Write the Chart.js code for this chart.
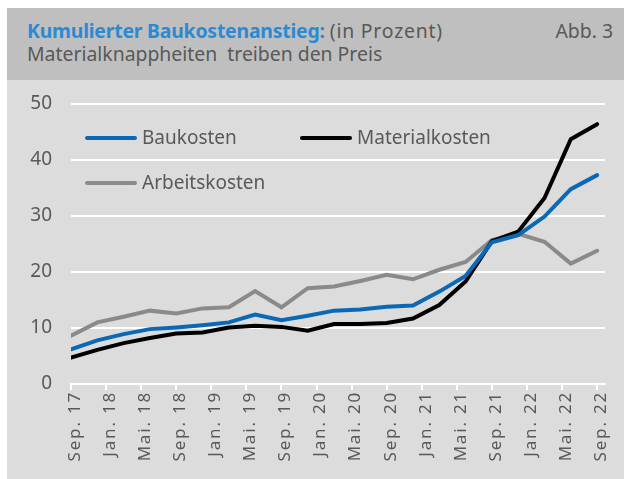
<!DOCTYPE html>
<html lang="de">
<head>
<meta charset="utf-8">
<script src="https://cdn.jsdelivr.net/npm/chart.js@4.4.0/dist/chart.umd.min.js"></script>
<style>
  body { margin: 0; background: #fff; font-family: "Noto Sans", sans-serif; color: #595959; }
  #panel { position: absolute; left: 7px; top: 8px; width: 617px; height: 471px; background: #dcdcdc; }
  #head { position: absolute; left: 0; top: 0; width: 617px; height: 72px; background: #bfbfbf; }
  .hl { position: absolute; left: 20px; font-size: 19.4px; line-height: 23px; white-space: pre; }
  #t1 { top: 11px; }
  #t2 { top: 34px; }
  #t1 b { color: #2a8ad4; font-weight: 700; letter-spacing: -0.2px; }
  #t1 span { letter-spacing: 0.8px; }
  #abb { position: absolute; right: 11px; top: 11px; font-size: 19.4px; line-height: 23px; }
  #chartBox { position: absolute; left: 0; top: 72px; width: 617px; height: 399px; }
  #chartBox canvas { display: block; }
  .lg { position: absolute; font-size: 19px; line-height: 23px; white-space: nowrap; }
  .lg i { display: inline-block; width: 52px; height: 4px; border-radius: 2px; vertical-align: middle; margin-right: 5px; position: relative; top: -1px; }
</style>
</head>
<body>
<div id="panel">
  <div id="head">
    <div class="hl" id="t1"><b>Kumulierter Baukostenanstieg:</b> <span>(in Prozent)</span></div>
    <div class="hl" id="t2">Materialknappheiten  treiben den Preis</div>
    <div id="abb">Abb. 3</div>
  </div>
  <div id="chartBox"><canvas id="chart" width="617" height="399"></canvas></div>
  <div id="legend"></div>
</div>
<script>
// tick labels every 4 months, starting Sep. 17
const tickLabels = ['Sep. 17', 'Jan. 18', 'Mai. 18', 'Sep. 18', 'Jan. 19', 'Mai. 19', 'Sep. 19', 'Jan. 20',
    'Mai. 20', 'Sep. 20', 'Jan. 21', 'Mai. 21', 'Sep. 21', 'Jan. 22', 'Mai. 22', 'Sep. 22'];
const tickMonths = [0, 4, 8, 12, 16, 20, 24, 28, 32, 36, 40, 44, 48, 52, 56, 60];

// quarterly observations, months after Sep. 17
const quarterMonths = [0, 3, 6, 9, 12, 15, 18, 21, 24, 27, 30, 33, 36, 39, 42, 45, 48, 51, 54, 57, 60];

const baukosten = [6.2, 7.8, 8.9, 9.8, 10.1, 10.5, 11.0, 12.4, 11.4, 12.2, 13.1, 13.3, 13.8, 14.0,
    16.5, 19.3, 25.3, 26.6, 29.9, 34.8, 37.3];
const materialkosten = [4.7, 6.1, 7.3, 8.2, 9.0, 9.2, 10.1, 10.4, 10.2, 9.5, 10.7, 10.7, 10.9, 11.7,
    14.1, 18.3, 25.5, 27.2, 33.2, 43.7, 46.4];
const arbeitskosten = [8.6, 11.0, 12.0, 13.1, 12.6, 13.5, 13.7, 16.6, 13.7, 17.1, 17.4, 18.4, 19.5, 18.7,
    20.4, 21.8, 25.7, 26.8, 25.4, 21.5, 23.8];

const yTicks = [0, 10, 20, 30, 40, 50];

function toPoints(values) {
    return values.map((v, i) => ({ x: quarterMonths[i], y: v }));
}

const datasets = [
    { label: 'Baukosten', data: toPoints(baukosten), borderColor: '#0a68b4' },
    { label: 'Materialkosten', data: toPoints(materialkosten), borderColor: '#000000' },
    { label: 'Arbeitskosten', data: toPoints(arbeitskosten), borderColor: '#8a8a8a' }
].map(d => Object.assign(d, {
    borderWidth: 4,
    pointRadius: 0,
    borderCapStyle: 'round',
    tension: 0,
    fill: false
}));

// wider letter spacing for the rotated month labels
const spacedLabels = {
    id: 'spacedLabels',
    beforeDraw(chart) {
        const xs = chart.scales.x;
        if (xs && !xs._spaced) {
            const orig = xs.drawLabels.bind(xs);
            xs.drawLabels = function (area) {
                const c = this.ctx;
                c.save();
                c.letterSpacing = '1.8px';
                orig(area);
                c.restore();
            };
            xs._spaced = true;
        }
    }
};

const chart = new Chart(document.getElementById('chart'), {
    type: 'line',
    data: { datasets: datasets },
    plugins: [spacedLabels],
    options: {
        responsive: false,
        animation: false,
        layout: { padding: { top: 24, right: 19, left: 0, bottom: 0 } },
        plugins: { legend: { display: false }, tooltip: { enabled: false } },
        scales: {
            x: {
                type: 'linear',
                min: 0,
                max: 60.9,
                afterBuildTicks: s => { s.ticks = tickMonths.map(v => ({ value: v })); },
                afterFit: s => { s.height = 95; },
                border: { display: true, color: '#ffffff', width: 2 },
                grid: { drawOnChartArea: false, drawTicks: true, tickLength: 6, color: '#ffffff', lineWidth: 2 },
                ticks: {
                    minRotation: 90,
                    maxRotation: 90,
                    padding: 1,
                    labelOffset: 4,
                    color: '#595959',
                    font: { family: 'Noto Sans', size: 17 },
                    callback: v => tickLabels[tickMonths.indexOf(v)]
                }
            },
            y: {
                min: 0,
                max: 50,
                afterBuildTicks: s => { s.ticks = yTicks.map(v => ({ value: v })); },
                afterFit: s => { s.width = 64; },
                border: { display: false },
                grid: { color: '#ffffff', lineWidth: 2, drawTicks: true, tickLength: 19, tickColor: 'rgba(0,0,0,0)' },
                ticks: {
                    padding: 0,
                    color: '#595959',
                    font: { family: 'Noto Sans', size: 19 }
                }
            }
        }
    }
});

// legend inside the plot area
const legendPos = [
    { left: 78, top: 118 },
    { left: 293, top: 118 },
    { left: 78, top: 163 }
];
const legend = document.getElementById('legend');
datasets.forEach((d, i) => {
    const el = document.createElement('div');
    el.className = 'lg';
    el.style.left = legendPos[i].left + 'px';
    el.style.top = legendPos[i].top + 'px';
    el.innerHTML = `<i style="background:${d.borderColor}"></i>${d.label}`;
    legend.appendChild(el);
});
</script>
</body>
</html>
